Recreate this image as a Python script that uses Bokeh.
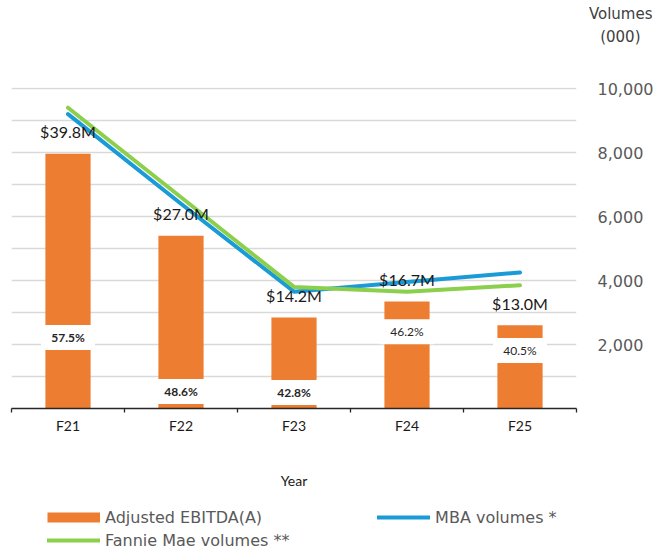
from bokeh.plotting import figure
from bokeh.layouts import column
from bokeh.models import (ColumnDataSource, FactorRange, Range1d, LinearAxis, CategoricalAxis,
                          FixedTicker, NumeralTickFormatter, Legend, LegendItem, Grid, Title)
from bokeh.core.properties import value, field
from bokeh.embed import file_html
from bokeh.resources import INLINE

# ---- data ----
years = ["F21", "F22", "F23", "F24", "F25"]
ebitda_musd = [39.8, 27.0, 14.2, 16.7, 13.0]
ebitda_margin_pct = [57.5, 48.6, 42.8, 46.2, 40.5]
mba_volumes = [9200, 6400, 3650, 3950, 4250]
fannie_volumes = [9400, 6600, 3800, 3650, 3850]
volume_ticks = [2000, 4000, 6000, 8000, 10000]
series_names = ["Adjusted EBITDA(A)", "MBA volumes *", "Fannie Mae volumes **"]

# ---- label placement / style (not data) ----
margin_label_y = [11.1, 2.65, 2.5, 12.0, 9.05]   # EBITDA-scale position of the margin boxes
margin_label_style = ["bold", "bold", "bold", "normal", "normal"]

ORANGE = "#ED7D31"
BLUE = "#1A9BD7"
GREEN = "#8CCF4D"
CAL = "Lato"
GOTH = "DejaVu Sans"

# frame is 1px taller than the 10,000 gridline so that gridline is not clipped
FRAME_H = 321
HEAD = FRAME_H / 320.0

src = ColumnDataSource(dict(
    year=years,
    ebitda=ebitda_musd,
    ebitda_label=[f"${v:.1f}M" for v in ebitda_musd],
    margin_y=margin_label_y,
    margin_label=[f"{v:.1f}%" for v in ebitda_margin_pct],
    margin_style=margin_label_style,
))

p = figure(x_range=FactorRange(*years, range_padding=0), y_range=Range1d(0, 50 * HEAD),
           frame_width=565, frame_height=FRAME_H, title=None,
           x_axis_location=None, y_axis_location=None,
           min_border_left=11, min_border_top=87, min_border_right=0, min_border_bottom=92,
           output_backend="svg", toolbar_location=None)
p.outline_line_color = None
p.background_fill_color = "white"
p.border_fill_color = "white"
p.xgrid.grid_line_color = None
p.ygrid.grid_line_color = None
p.extra_y_ranges = {"vol": Range1d(0, 10000 * HEAD)}

grid = Grid(dimension=1, y_range_name="vol",
            ticker=FixedTicker(ticks=list(range(1000, 10001, 1000))),
            grid_line_color="#D9D9D9", grid_line_width=1.3)
p.add_layout(grid)

# axis with tick marks at category boundaries (synthetic factor coordinates 0..N)
edge_axis = LinearAxis(ticker=FixedTicker(ticks=list(range(len(years) + 1))),
                       major_label_text_font_size="0px", major_label_standoff=0,
                       major_label_overrides={i: "" for i in range(len(years) + 1)},
                       major_tick_out=4, major_tick_in=0, minor_tick_out=0, minor_tick_in=0,
                       axis_line_color="#262626", axis_line_width=1.3,
                       major_tick_line_color="#262626", major_tick_line_width=1.3)
p.add_layout(edge_axis, "below")

cat_axis = CategoricalAxis(axis_line_color=None, major_tick_out=0, major_tick_in=0,
                           major_label_standoff=4,
                           major_label_text_font=CAL, major_label_text_font_size="14px",
                           major_label_text_color="#1a1a1a",
                           axis_label="Year", axis_label_standoff=35,
                           axis_label_text_font=CAL, axis_label_text_font_size="14px",
                           axis_label_text_font_style="normal", axis_label_text_color="#1a1a1a")
p.add_layout(cat_axis, "below")

vol_axis = LinearAxis(y_range_name="vol", ticker=FixedTicker(ticks=volume_ticks),
                      formatter=NumeralTickFormatter(format="0,0"),
                      axis_line_color=None, major_tick_out=0, major_tick_in=0,
                      minor_tick_out=0, minor_tick_in=0, major_label_standoff=21,
                      major_label_text_font=GOTH, major_label_text_font_size="16px",
                      major_label_text_color="#595959")
p.add_layout(vol_axis, "right")

bars = p.vbar(x="year", top="ebitda", width=0.4, source=src,
              fill_color=ORANGE, line_color=None)
mba = p.line(years, mba_volumes, y_range_name="vol", line_color=BLUE, line_width=4,
             line_join="round", line_cap="round")
fan = p.line(years, fannie_volumes, y_range_name="vol", line_color=GREEN, line_width=4,
             line_join="round", line_cap="round")

p.rect(x="year", y="margin_y", width=54, height=25, width_units="screen", height_units="screen",
       source=src, fill_color="white", line_color=None)
p.text(x="year", y="margin_y", text="margin_label", source=src,
       text_font=value(CAL), text_font_size="12px", text_font_style=field("margin_style"),
       text_align="center", text_baseline="middle", text_color="#262626")
p.text(x="year", y="ebitda", text="ebitda_label", source=src, y_offset=-22,
       text_font=value(CAL), text_font_size="16px",
       text_align="center", text_baseline="middle", text_color="#1a1a1a")

# right-axis heading, stacked in the top panel (spacer first, nearest the frame)
head_style = dict(align="right", text_font=GOTH, text_font_size="15px",
                  text_font_style="normal", text_color="#404040")
p.add_layout(Title(text=" ", offset=0, standoff=19.5, **head_style), "above")
p.add_layout(Title(text="(000)", offset=-64, standoff=3, **head_style), "above")
p.add_layout(Title(text="Volumes", offset=-76, standoff=3, **head_style), "above")

# ---- legend strip below the chart ----
lg = figure(width=653, height=50, x_range=Range1d(0, 1), y_range=Range1d(0, 1),
            x_axis_location=None, y_axis_location=None, title=None,
            min_border_left=0, min_border_right=0, min_border_top=0, min_border_bottom=0,
            output_backend="svg", toolbar_location=None)
lg.outline_line_color = None
lg.xgrid.grid_line_color = None
lg.ygrid.grid_line_color = None
nan = float("nan")
# key renderers: styled like the chart's series, with no visible data of their own
key_bar = lg.line(x=[nan], y=[nan], line_color=ORANGE, line_width=10, line_cap="butt")
key_mba = lg.line(x=[nan], y=[nan], line_color=BLUE, line_width=4, line_cap="round")
key_fan = lg.line(x=[nan], y=[nan], line_color=GREEN, line_width=4, line_cap="round")

leg_style = dict(padding=0, margin=0, border_line_color=None, background_fill_alpha=0,
                 label_text_font=GOTH, label_text_font_size="16px", label_text_color="#595959",
                 label_height=20, glyph_height=20, glyph_width=53, label_standoff=5)
leg_a = Legend(items=[LegendItem(label=series_names[0], renderers=[key_bar]),
                      LegendItem(label=series_names[1], renderers=[key_mba])],
               orientation="horizontal", spacing=115, location=(36, 23), **leg_style)
leg_b = Legend(items=[LegendItem(label=series_names[2], renderers=[key_fan])],
               orientation="horizontal", spacing=0, location=(36, 0), **leg_style)
lg.add_layout(leg_a)
lg.add_layout(leg_b)

layout = column(p, lg, spacing=0)
open("out.html", "w").write(file_html(layout, INLINE))
